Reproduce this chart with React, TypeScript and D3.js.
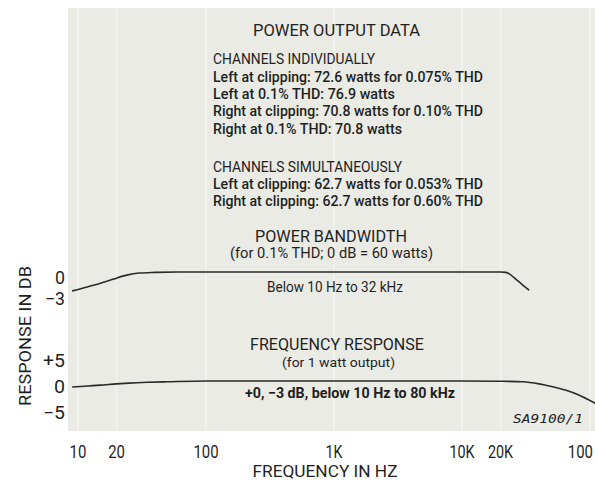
import React from "react";
import * as d3 from "d3";

const FREQ_TICKS = [10, 20, 100, 1000, 10000, 20000, 100000];
const FREQ_TICK_LABELS = ["10", "20", "100", "1K", "10K", "20K", "100"];

const PB_TICKS = [0, -3];
const PB_TICK_LABELS = ["0", "\u22123"];
const FR_TICKS = [5, 0, -5];
const FR_TICK_LABELS = ["+5", "0", "\u22125"];

// Power bandwidth curve (dB re 60 W)
const PB_FREQ = [9, 12, 15, 19, 24, 30, 40, 60, 100, 1000, 10000, 20000, 22000, 24000, 27000, 30000, 33500];
const PB_DB = [-2.7, -2.1, -1.6, -1.0, -0.45, -0.15, -0.05, 0, 0, 0, 0, 0, -0.05, -0.4, -1.2, -1.9, -2.6];

// Frequency response curve (1 W)
const FR_FREQ = [9, 12, 15, 20, 25, 35, 50, 100, 1000, 10000, 20000, 30000, 40000, 50000, 65000, 80000, 110000];
const FR_DB = [-1.15, -0.95, -0.8, -0.55, -0.4, -0.25, -0.15, 0, 0, 0, -0.05, -0.15, -0.55, -1.05, -1.8, -2.6, -4.3];

const TITLE = "POWER OUTPUT DATA";
const BLOCK1 = [
  "CHANNELS INDIVIDUALLY",
  "Left at clipping: 72.6 watts for 0.075% THD",
  "Left at 0.1% THD: 76.9 watts",
  "Right at clipping: 70.8 watts for 0.10% THD",
  "Right at 0.1% THD: 70.8 watts",
];
const BLOCK2 = [
  "CHANNELS SIMULTANEOUSLY",
  "Left at clipping: 62.7 watts for 0.053% THD",
  "Right at clipping: 62.7 watts for 0.60% THD",
];

const FONT = "Roboto, 'Liberation Sans', sans-serif";
const INK = "#1f1f1f";

export default function App() {
  const W = 595, H = 482;
  const x = d3.scaleLog().domain([10, 100000]).range([78, 590]);
  const yPB = d3.scaleLinear().domain([0, -3]).range([272, 293]);
  const yFR = d3.scaleLinear().domain([5, -5]).range([355, 407]);

  const pbLine = d3.line<number>()
    .x((_, i) => x(PB_FREQ[i]))
    .y((d) => yPB(d))
    .curve(d3.curveMonotoneX);
  const frLine = d3.line<number>()
    .x((_, i) => x(FR_FREQ[i]))
    .y((d) => yFR(d))
    .curve(d3.curveMonotoneX);

  const block1Len = [162, 270, 182, 270, 189];
  const block1Y = [64, 82, 99, 116, 134];
  const block2Len = [189, 270, 270];
  const block2Y = [172, 189, 206];

  const tickW = (s: string) => s.length * 8.4;

  return (
    <svg width={W} height={H} style={{ position: "absolute", left: 0, top: 0, background: "#fff" }}
      fontFamily={FONT}>
      <rect x={68} y={8} width={W - 68} height={423} fill="#eaebe5" />
      {FREQ_TICKS.map((f, i) => (
        <line key={"g" + i} x1={x(f)} x2={x(f)} y1={8} y2={431} stroke="#f1f2ee" strokeWidth={2} />
      ))}

      <text x={253} y={36} fontSize={17} fill={INK} textLength={167} lengthAdjust="spacingAndGlyphs">{TITLE}</text>
      {BLOCK1.map((t, i) => (
        <text key={"b1" + i} x={213} y={block1Y[i]} fontSize={i === 0 ? 14 : 14.5} fill={INK}
          fontWeight={i === 0 ? 400 : 500} textLength={block1Len[i]} lengthAdjust="spacingAndGlyphs">{t}</text>
      ))}
      {BLOCK2.map((t, i) => (
        <text key={"b2" + i} x={213} y={block2Y[i]} fontSize={i === 0 ? 14 : 14.5} fill={INK}
          fontWeight={i === 0 ? 400 : 500} textLength={block2Len[i]} lengthAdjust="spacingAndGlyphs">{t}</text>
      ))}

      <text x={255} y={242} fontSize={17} fill={INK} textLength={152} lengthAdjust="spacingAndGlyphs">POWER BANDWIDTH</text>
      <text x={230} y={258} fontSize={14} fill={INK} textLength={203} lengthAdjust="spacingAndGlyphs">(for 0.1% THD; 0 dB = 60 watts)</text>
      <text x={267} y={292} fontSize={14} fill={INK} textLength={136} lengthAdjust="spacingAndGlyphs">Below 10 Hz to 32 kHz</text>

      <text x={250} y={350} fontSize={17} fill={INK} textLength={174} lengthAdjust="spacingAndGlyphs">FREQUENCY RESPONSE</text>
      <text x={282} y={367} fontSize={13.5} fill={INK} textLength={113} lengthAdjust="spacingAndGlyphs">(for 1 watt output)</text>
      <text x={245} y={398} fontSize={14.5} fontWeight={700} fill={INK} textLength={210} lengthAdjust="spacingAndGlyphs">{"+0, \u22123 dB, below 10 Hz to 80 kHz"}</text>

      <text x={513} y={423} fontSize={13} fontStyle="italic" fill={INK} fontFamily="'DejaVu Sans Mono', 'Liberation Mono', monospace"
        textLength={70} lengthAdjust="spacingAndGlyphs">SA9100/1</text>

      <path d={pbLine(PB_DB) || ""} fill="none" stroke="#2a2a2a" strokeWidth={1.6} />
      <path d={frLine(FR_DB) || ""} fill="none" stroke="#2a2a2a" strokeWidth={1.6} />

      {PB_TICKS.map((v, i) => (
        <text key={"pt" + i} x={65} y={yPB(v) + 11.5} fontSize={18} textAnchor="end" fill={INK}
          textLength={PB_TICK_LABELS[i].length * 10} lengthAdjust="spacingAndGlyphs">{PB_TICK_LABELS[i]}</text>
      ))}
      {FR_TICKS.map((v, i) => (
        <text key={"ft" + i} x={65} y={yFR(v) + 11.5} fontSize={18} textAnchor="end" fill={INK}
          textLength={FR_TICK_LABELS[i].length * 11} lengthAdjust="spacingAndGlyphs">{FR_TICK_LABELS[i]}</text>
      ))}

      {FREQ_TICKS.map((f, i) => {
        const lbl = FREQ_TICK_LABELS[i];
        const cx = Math.min(x(f), W - 2 - tickW(lbl) / 2);
        return (
          <text key={"xt" + i} x={cx} y={458} fontSize={18} textAnchor="middle" fill={INK}
            textLength={tickW(lbl)} lengthAdjust="spacingAndGlyphs">{lbl}</text>
        );
      })}

      <text x={325} y={477} fontSize={16} textAnchor="middle" fill={INK} textLength={145} lengthAdjust="spacingAndGlyphs">FREQUENCY IN HZ</text>
      <text transform="translate(31,336) rotate(-90)" fontSize={17} textAnchor="middle" fill={INK}
        textLength={140} lengthAdjust="spacingAndGlyphs">RESPONSE IN DB</text>
    </svg>
  );
}
